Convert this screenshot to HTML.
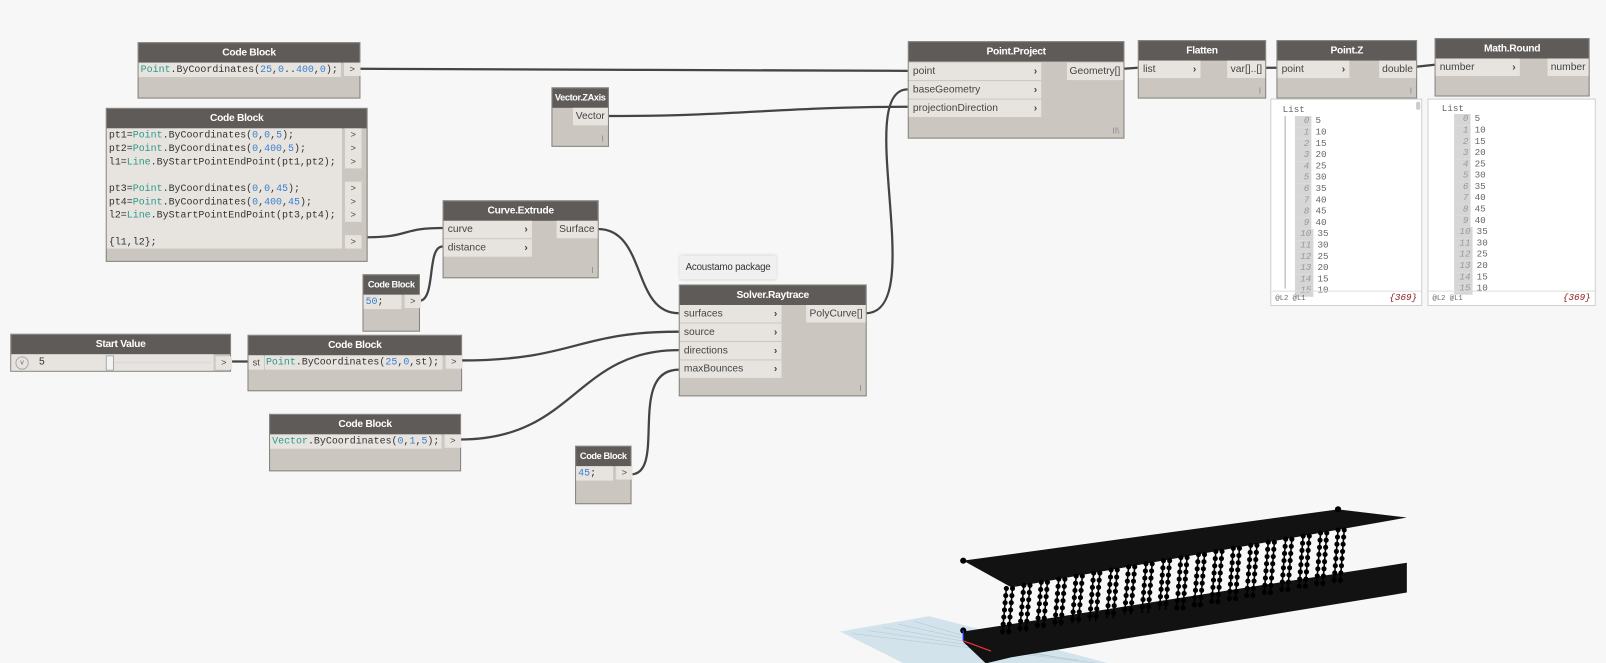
<!DOCTYPE html>
<html><head><meta charset="utf-8"><style>
html,body{margin:0;padding:0;background:#f7f7f7;width:1606px;height:663px;overflow:hidden}
#w{position:absolute;left:0;top:0;width:1564px;height:646px;transform:scale(1.0269);transform-origin:0 0}
.n{position:absolute;background:#cbc7c0;border:1px solid #85837f;box-sizing:border-box}
.h{background:#5e5b58;color:#fff;font:bold 10px "Liberation Sans",sans-serif;letter-spacing:-0.3px;text-align:center;height:19px;line-height:19px;white-space:nowrap;overflow:hidden}
.p{position:absolute;background:#e7e4df;font:10px "Liberation Sans",sans-serif;color:#444;height:17px;line-height:17px;box-sizing:border-box;padding-left:4px;white-space:nowrap}
.p b{position:absolute;right:4px;top:0;font-weight:bold;color:#444}
.o{position:absolute;background:#e7e4df;font:10px "Liberation Sans",sans-serif;color:#444;height:17px;line-height:17px;padding:0 3px;text-align:right;white-space:nowrap}
.c{font:9.7px "Liberation Mono",monospace;color:#333;white-space:pre;line-height:13px;overflow:hidden}
.t{color:#2c988b}.u{color:#3a7fd0}
.ar{position:absolute;width:16px;height:13px;background:#e7e4df;font:9px "Liberation Sans",sans-serif;text-align:center;line-height:13px;color:#444;border-left:1px solid #cbc7c0}
.ft{position:absolute;right:4px;bottom:2px;font:8px sans-serif;color:#888}
.wt{position:absolute;background:#fff;border:1px solid #cfcfcf;box-sizing:border-box;font:9px "Liberation Mono",monospace;color:#666}
.wt .r{position:absolute;height:11px;line-height:11px;white-space:pre}
.wt .i{display:inline-block;background:#d6d6d6;color:#999;font-style:italic;text-align:right;padding-right:2px;margin-right:4px}
</style></head><body><div id="w">
<svg width="1564" height="646" style="position:absolute;left:0;top:0" fill="none">
<g stroke="#444" stroke-width="2.2">
<path d="M350,67 C600,67 650,69 884,69"/>
<path d="M592,113 C720,113 760,104 884,104"/>
<path d="M357,231 C400,231 390,222 431,222"/>
<path d="M408,293 C425,293 415,240 431,240"/>
<path d="M582,223 C630,223 615,305 661,305"/>
<path d="M843,305 C905,305 830,87 884,87"/>
<path d="M224,352 L241,352"/>
<path d="M449,351 C560,351 560,323 661,323"/>
<path d="M448,428 C560,428 560,341 661,341"/>
<path d="M614,462 C650,462 610,360 661,360"/>
<path d="M1094,67 L1108,66"/>
<path d="M1232,66 L1243,66"/>
<path d="M1379,65 L1397,63"/>
</g>
<polygon points="818,615 905,600 1080,646 880,646" fill="#d3e3ec"/>
<g stroke="#b3cbd8" stroke-width="0.6">
<path d="M830,617 L1070,646 M845,614 L1050,643 M860,611 L1030,640 M875,608 L1010,637 M890,605 L990,634"/>
</g>
<polygon points="938,615 1370,548 1370,577 985,640 960,646 938,625" fill="#121212"/>
<polygon points="938,546 1303,496 1370,504 985,572" fill="#121212"/>
<g stroke="#000" stroke-width="1.5">
<path d="M980,573 L976,618 M986,573 L982,618 M997,570 L993,615 M1003,570 L999,615 M1014,567 L1010,612 M1020,567 L1016,612 M1031,564 L1027,610 M1037,564 L1033,610 M1048,561 L1044,607 M1054,561 L1050,607 M1065,558 L1061,605 M1071,558 L1067,605 M1082,555 L1078,602 M1088,555 L1084,602 M1099,552 L1095,599 M1105,552 L1101,599 M1116,549 L1112,597 M1122,549 L1118,597 M1133,546 L1129,594 M1139,546 L1135,594 M1150,543 L1146,592 M1156,543 L1152,592 M1167,540 L1163,589 M1173,540 L1169,589 M1184,537 L1180,586 M1190,537 L1186,586 M1201,534 L1197,584 M1207,534 L1203,584 M1218,531 L1214,581 M1224,531 L1220,581 M1235,528 L1231,579 M1241,528 L1237,579 M1252,525 L1248,576 M1258,525 L1254,576 M1269,522 L1265,573 M1275,522 L1271,573 M1286,519 L1282,571 M1292,519 L1288,571 M1303,516 L1299,568 M1309,516 L1305,568"/>
</g>
<g stroke="#000" stroke-width="5" stroke-linecap="round" stroke-dasharray="0 7">
<path d="M980,573 L976,618 M986,573 L982,618 M997,570 L993,615 M1003,570 L999,615 M1014,567 L1010,612 M1020,567 L1016,612 M1031,564 L1027,610 M1037,564 L1033,610 M1048,561 L1044,607 M1054,561 L1050,607 M1065,558 L1061,605 M1071,558 L1067,605 M1082,555 L1078,602 M1088,555 L1084,602 M1099,552 L1095,599 M1105,552 L1101,599 M1116,549 L1112,597 M1122,549 L1118,597 M1133,546 L1129,594 M1139,546 L1135,594 M1150,543 L1146,592 M1156,543 L1152,592 M1167,540 L1163,589 M1173,540 L1169,589 M1184,537 L1180,586 M1190,537 L1186,586 M1201,534 L1197,584 M1207,534 L1203,584 M1218,531 L1214,581 M1224,531 L1220,581 M1235,528 L1231,579 M1241,528 L1237,579 M1252,525 L1248,576 M1258,525 L1254,576 M1269,522 L1265,573 M1275,522 L1271,573 M1286,519 L1282,571 M1292,519 L1288,571 M1303,516 L1299,568 M1309,516 L1305,568"/>
</g>
<circle cx="938" cy="546" r="3" fill="#000"/><circle cx="1303" cy="496" r="3" fill="#000"/><circle cx="938" cy="614" r="3" fill="#000"/>
<path d="M938,614 L938,624" stroke="#2233ff" stroke-width="1.2"/>
<path d="M938,624 L965,634" stroke="#e33" stroke-width="1.2"/>
</svg>

<div class="n" style="left:134px;top:41px;width:217px;height:55px"><div class="h">Code Block</div>
<div class="c" style="position:absolute;left:0;top:19px;width:197px;height:14px;background:#e7e4df;padding-left:2px;box-sizing:border-box"><span class="t">Point</span>.ByCoordinates(<span class="u">25</span>,<span class="u">0</span>..<span class="u">400</span>,<span class="u">0</span>);</div>
<div class="ar" style="left:199px;top:19px">&gt;</div></div>

<div class="n" style="left:103px;top:105px;width:255px;height:150px"><div class="h">Code Block</div>
<div class="c" style="position:absolute;left:0;top:19px;width:229px;height:117px;background:#e7e4df;padding-left:2px;box-sizing:border-box">pt1=<span class="t">Point</span>.ByCoordinates(<span class="u">0</span>,<span class="u">0</span>,<span class="u">5</span>);
pt2=<span class="t">Point</span>.ByCoordinates(<span class="u">0</span>,<span class="u">400</span>,<span class="u">5</span>);
l1=<span class="t">Line</span>.ByStartPointEndPoint(pt1,pt2);

pt3=<span class="t">Point</span>.ByCoordinates(<span class="u">0</span>,<span class="u">0</span>,<span class="u">45</span>);
pt4=<span class="t">Point</span>.ByCoordinates(<span class="u">0</span>,<span class="u">400</span>,<span class="u">45</span>);
l2=<span class="t">Line</span>.ByStartPointEndPoint(pt3,pt4);

{l1,l2};</div>
<div class="ar" style="left:231px;top:19px">&gt;</div><div class="ar" style="left:231px;top:32px">&gt;</div><div class="ar" style="left:231px;top:45px">&gt;</div>
<div class="ar" style="left:231px;top:71px">&gt;</div><div class="ar" style="left:231px;top:84px">&gt;</div><div class="ar" style="left:231px;top:97px">&gt;</div>
<div class="ar" style="left:231px;top:123px">&gt;</div></div>

<div class="n" style="left:537px;top:85px;width:56px;height:58px"><div class="h" style="font-size:9px;letter-spacing:-0.4px">Vector.ZAxis</div>
<div class="o" style="right:0;top:19px">Vector</div><div class="ft">I</div></div>

<div class="n" style="left:884px;top:40px;width:211px;height:95px"><div class="h">Point.Project</div>
<div class="p" style="left:0;top:20px;width:129px">point<b>›</b></div>
<div class="p" style="left:0;top:38px;width:129px">baseGeometry<b>›</b></div>
<div class="p" style="left:0;top:56px;width:129px">projectionDirection<b>›</b></div>
<div class="o" style="right:0;top:20px">Geometry[]</div><div class="ft">II\</div></div>

<div class="n" style="left:1108px;top:39px;width:125px;height:57px"><div class="h">Flatten</div>
<div class="p" style="left:0;top:19px;width:60px">list<b>›</b></div>
<div class="o" style="right:0;top:19px">var[]..[]</div><div class="ft">I</div></div>

<div class="n" style="left:1243px;top:39px;width:137px;height:57px"><div class="h">Point.Z</div>
<div class="p" style="left:0;top:19px;width:70px">point<b>›</b></div>
<div class="o" style="right:0;top:19px">double</div><div class="ft">I</div></div>

<div class="n" style="left:1397px;top:37px;width:151px;height:57px"><div class="h">Math.Round</div>
<div class="p" style="left:0;top:19px;width:82px">number<b>›</b></div>
<div class="o" style="right:0;top:19px">number</div></div>

<div class="wt" style="left:1237px;top:96px;width:148px;height:202px">
<div class="r" style="left:11px;top:5px">List</div>
<div style="position:absolute;left:13px;top:16px;width:1px;height:168px;background:#aaa"></div>
<div class="r" style="left:23px;top:16px"><span class="i" style="width:14px">0</span>5</div>
<div class="r" style="left:23px;top:27px"><span class="i" style="width:14px">1</span>10</div>
<div class="r" style="left:23px;top:38px"><span class="i" style="width:14px">2</span>15</div>
<div class="r" style="left:23px;top:49px"><span class="i" style="width:14px">3</span>20</div>
<div class="r" style="left:23px;top:60px"><span class="i" style="width:14px">4</span>25</div>
<div class="r" style="left:23px;top:71px"><span class="i" style="width:14px">5</span>30</div>
<div class="r" style="left:23px;top:82px"><span class="i" style="width:14px">6</span>35</div>
<div class="r" style="left:23px;top:93px"><span class="i" style="width:14px">7</span>40</div>
<div class="r" style="left:23px;top:104px"><span class="i" style="width:14px">8</span>45</div>
<div class="r" style="left:23px;top:115px"><span class="i" style="width:14px">9</span>40</div>
<div class="r" style="left:23px;top:126px"><span class="i" style="width:16px">10</span>35</div>
<div class="r" style="left:23px;top:137px"><span class="i" style="width:16px">11</span>30</div>
<div class="r" style="left:23px;top:148px"><span class="i" style="width:16px">12</span>25</div>
<div class="r" style="left:23px;top:159px"><span class="i" style="width:16px">13</span>20</div>
<div class="r" style="left:23px;top:170px"><span class="i" style="width:16px">14</span>15</div>
<div class="r" style="left:23px;top:181px"><span class="i" style="width:16px">15</span>10</div>
<div style="position:absolute;left:141px;top:2px;width:4px;height:8px;background:#ccc;border-radius:2px"></div>
<div style="position:absolute;left:0;top:186px;width:146px;height:1px;background:#ddd"></div>
<div class="r" style="left:4px;top:189px;font-size:7px">@L2 @L1</div>
<div class="r" style="right:4px;top:188px;color:#8b1a1a;font-style:italic">{369}</div></div>

<div class="wt" style="left:1390px;top:96px;width:164px;height:202px">
<div class="r" style="left:13px;top:4px">List</div>
<div class="r" style="left:25px;top:14px"><span class="i" style="width:14px">0</span>5</div>
<div class="r" style="left:25px;top:25px"><span class="i" style="width:14px">1</span>10</div>
<div class="r" style="left:25px;top:36px"><span class="i" style="width:14px">2</span>15</div>
<div class="r" style="left:25px;top:47px"><span class="i" style="width:14px">3</span>20</div>
<div class="r" style="left:25px;top:58px"><span class="i" style="width:14px">4</span>25</div>
<div class="r" style="left:25px;top:69px"><span class="i" style="width:14px">5</span>30</div>
<div class="r" style="left:25px;top:80px"><span class="i" style="width:14px">6</span>35</div>
<div class="r" style="left:25px;top:91px"><span class="i" style="width:14px">7</span>40</div>
<div class="r" style="left:25px;top:102px"><span class="i" style="width:14px">8</span>45</div>
<div class="r" style="left:25px;top:113px"><span class="i" style="width:14px">9</span>40</div>
<div class="r" style="left:25px;top:124px"><span class="i" style="width:16px">10</span>35</div>
<div class="r" style="left:25px;top:135px"><span class="i" style="width:16px">11</span>30</div>
<div class="r" style="left:25px;top:146px"><span class="i" style="width:16px">12</span>25</div>
<div class="r" style="left:25px;top:157px"><span class="i" style="width:16px">13</span>20</div>
<div class="r" style="left:25px;top:168px"><span class="i" style="width:16px">14</span>15</div>
<div class="r" style="left:25px;top:179px"><span class="i" style="width:16px">15</span>10</div>
<div style="position:absolute;left:0;top:186px;width:162px;height:1px;background:#ddd"></div>
<div class="r" style="left:4px;top:189px;font-size:7px">@L2 @L1</div>
<div class="r" style="right:4px;top:188px;color:#8b1a1a;font-style:italic">{369}</div></div>

<div class="n" style="left:431px;top:195px;width:152px;height:76px"><div class="h">Curve.Extrude</div>
<div class="p" style="left:0;top:19px;width:86px">curve<b>›</b></div>
<div class="p" style="left:0;top:37px;width:86px">distance<b>›</b></div>
<div class="o" style="right:0;top:19px">Surface</div><div class="ft">I</div></div>

<div class="n" style="left:353px;top:267px;width:56px;height:56px"><div class="h" style="font-size:9px;letter-spacing:-0.4px">Code Block</div>
<div class="c" style="position:absolute;left:0;top:19px;width:37px;height:14px;background:#e7e4df;padding-left:2px;box-sizing:border-box"><span class="u">50</span>;</div>
<div class="ar" style="left:39px;top:19px">&gt;</div></div>

<div style="position:absolute;left:662px;top:249px;width:94px;height:23px;background:#f0f0f0;box-shadow:0 0 3px #ccc;font:9.5px 'Liberation Sans',sans-serif;letter-spacing:-0.2px;color:#333;line-height:23px;text-align:center">Acoustamo package</div>

<div class="n" style="left:661px;top:277px;width:183px;height:109px"><div class="h">Solver.Raytrace</div>
<div class="p" style="left:0;top:19px;width:99px">surfaces<b>›</b></div>
<div class="p" style="left:0;top:37px;width:99px">source<b>›</b></div>
<div class="p" style="left:0;top:55px;width:99px">directions<b>›</b></div>
<div class="p" style="left:0;top:73px;width:99px">maxBounces<b>›</b></div>
<div class="o" style="right:0;top:19px">PolyCurve[]</div><div class="ft">I</div></div>

<div class="n" style="left:10px;top:325px;width:215px;height:37px"><div class="h">Start Value</div>
<div style="position:absolute;left:0;top:19px;width:197px;height:16px;background:#e7e4df"></div>
<div style="position:absolute;left:4px;top:21px;width:11px;height:11px;border:1px solid #aaa;border-radius:50%;font:7px sans-serif;text-align:center;line-height:11px;color:#666">v</div>
<div style="position:absolute;left:27px;top:21px;font:10px 'Liberation Sans',sans-serif;color:#333">5</div>
<div style="position:absolute;left:95px;top:26px;width:100px;height:2px;background:#ddd"></div>
<div style="position:absolute;left:92px;top:20px;width:6px;height:13px;background:#f4f4f4;border:1px solid #aaa"></div>
<div class="ar" style="left:198px;top:21px">&gt;</div></div>

<div class="n" style="left:241px;top:326px;width:209px;height:55px"><div class="h">Code Block</div>
<div style="position:absolute;left:0;top:19px;width:15px;height:14px;background:#e7e4df;font:9px 'Liberation Sans',sans-serif;line-height:14px;text-align:center;color:#444">st</div>
<div class="c" style="position:absolute;left:16px;top:19px;width:173px;height:14px;background:#e7e4df;padding-left:1px;box-sizing:border-box"><span class="t">Point</span>.ByCoordinates(<span class="u">25</span>,<span class="u">0</span>,st);</div>
<div class="ar" style="left:191px;top:19px">&gt;</div></div>

<div class="n" style="left:262px;top:403px;width:187px;height:56px"><div class="h">Code Block</div>
<div class="c" style="position:absolute;left:0;top:19px;width:167px;height:14px;background:#e7e4df;padding-left:2px;box-sizing:border-box"><span class="t">Vector</span>.ByCoordinates(<span class="u">0</span>,<span class="u">1</span>,<span class="u">5</span>);</div>
<div class="ar" style="left:169px;top:19px">&gt;</div></div>

<div class="n" style="left:560px;top:434px;width:55px;height:57px"><div class="h" style="font-size:9px;letter-spacing:-0.4px">Code Block</div>
<div class="c" style="position:absolute;left:0;top:19px;width:36px;height:14px;background:#e7e4df;padding-left:2px;box-sizing:border-box"><span class="u">45</span>;</div>
<div class="ar" style="left:38px;top:19px">&gt;</div></div>
</div></body></html>
